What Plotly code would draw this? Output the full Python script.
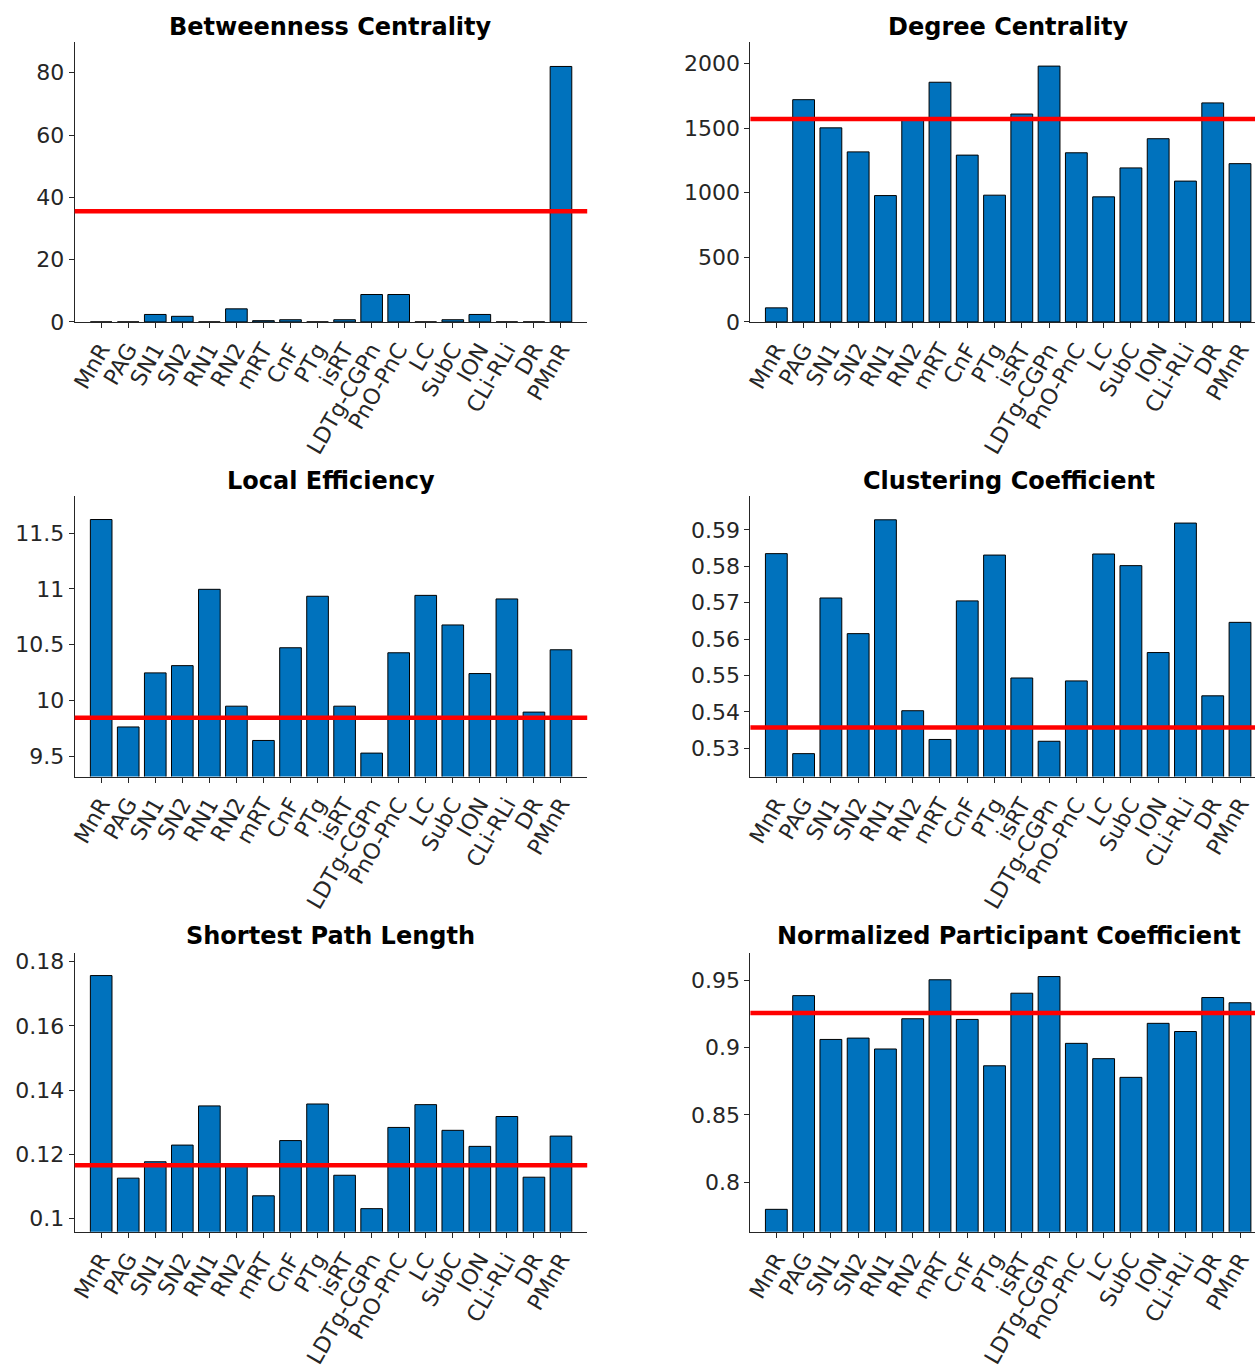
import plotly.graph_objects as go

regions = ["MnR", "PAG", "SN1", "SN2", "RN1", "RN2", "mRT", "CnF", "PTg", "isRT",
           "LDTg-CGPn", "PnO-PnC", "LC", "SubC", "ION", "CLi-RLi", "DR", "PMnR"]

betweenness = [0, 0, 2.4, 1.8, 0, 4.2, 0.4, 0.7, 0, 0.7, 8.8, 8.8, 0, 0.7, 2.4, 0, 0, 82.0]
degree = [109, 1720, 1502, 1316, 978, 1565, 1855, 1291, 981, 1609, 1980, 1309, 968, 1192,
          1418, 1090, 1695, 1225]
local_eff = [11.621, 9.764, 10.248, 10.313, 10.996, 9.95, 9.643, 10.473, 10.934, 9.95,
             9.53, 10.428, 10.942, 10.677, 10.242, 10.91, 9.897, 10.455]
clustering = [0.5835, 0.5285, 0.5713, 0.5615, 0.5928, 0.5403, 0.5324, 0.5705, 0.5831,
              0.5493, 0.5319, 0.5485, 0.5834, 0.5802, 0.5563, 0.5919, 0.5444, 0.5646]
shortest_path = [0.1757, 0.1126, 0.1177, 0.1229, 0.1351, 0.1163, 0.1071, 0.1243, 0.1357,
                 0.1135, 0.1031, 0.1284, 0.1355, 0.1275, 0.1225, 0.1318, 0.1129, 0.1257]
participation = [0.7797, 0.9387, 0.9061, 0.9071, 0.899, 0.9215, 0.9505, 0.921, 0.8865,
                 0.9405, 0.9529, 0.9032, 0.8918, 0.8779, 0.9181, 0.912, 0.9373, 0.9334]

thresholds = [35.5, 1570, 9.846, 0.5357, 0.1166, 0.9258]

titles = ["Betweenness Centrality", "Degree Centrality", "Local Efficiency",
          "Clustering Coefficient", "Shortest Path Length",
          "Normalized Participant Coefficient"]

y_ranges = [[0, 90], [0, 2170], [9.32, 11.83], [0.5222, 0.5993], [0.0959, 0.1828],
            [0.763, 0.9706]]
y_tickvals = [[0, 20, 40, 60, 80], [0, 500, 1000, 1500, 2000],
              [9.5, 10, 10.5, 11, 11.5], [0.53, 0.54, 0.55, 0.56, 0.57, 0.58, 0.59],
              [0.1, 0.12, 0.14, 0.16, 0.18], [0.8, 0.85, 0.9, 0.95]]
y_ticktext = [["0", "20", "40", "60", "80"], ["0", "500", "1000", "1500", "2000"],
              ["9.5", "10", "10.5", "11", "11.5"],
              ["0.53", "0.54", "0.55", "0.56", "0.57", "0.58", "0.59"],
              ["0.1", "0.12", "0.14", "0.16", "0.18"], ["0.8", "0.85", "0.9", "0.95"]]

series = [betweenness, degree, local_eff, clustering, shortest_path, participation]

W, H = 1255, 1369
x_domains = [[69 / W, 584 / W], [748 / W, 1.0]]
x_ranges = [[-0.98, 17.97], [-0.95, 17.55]]
y_domains = [[1 - 322.7 / H, 1 - 39 / H], [1 - 782.7 / H, 1 - 499 / H],
             [1 - 1243.3 / H, 1 - 961 / H]]
title_y = [24, 484, 944]
title_x = [(69 + 584) / 2 / W, (748 + 1267) / 2 / W]

BAR_COLOR = "#0072BD"
AX_COLOR = "#262626"
FONT = "DejaVu Sans"
TICK_SIZE = 22

fig = go.Figure()
layout = dict(width=W, height=H, margin=dict(l=0, r=0, t=0, b=0),
              paper_bgcolor="white", plot_bgcolor="white", showlegend=False,
              font=dict(family=FONT, size=TICK_SIZE, color=AX_COLOR))
annotations = []
shapes = []

for i in range(6):
    row, col = divmod(i, 2)
    n = i + 1
    xa = "x" if n == 1 else f"x{n}"
    ya = "y" if n == 1 else f"y{n}"
    fig.add_trace(go.Bar(
        x=list(range(len(regions))), y=series[i], width=0.8,
        marker=dict(color=BAR_COLOR, line=dict(color="black", width=1)),
        xaxis=xa, yaxis=ya, hoverinfo="x+y"))
    xkey = "xaxis" if n == 1 else f"xaxis{n}"
    ykey = "yaxis" if n == 1 else f"yaxis{n}"
    layout[xkey] = dict(domain=x_domains[col], range=x_ranges[col], anchor=ya,
                        tickmode="array", tickvals=list(range(len(regions))),
                        ticktext=regions, tickangle=-60, ticks="outside", ticklen=5,
                        tickcolor=AX_COLOR, showline=True, linecolor=AX_COLOR,
                        linewidth=1.2, showgrid=False, zeroline=False,
                        tickfont=dict(family=FONT, size=TICK_SIZE, color=AX_COLOR))
    layout[ykey] = dict(domain=y_domains[row], range=y_ranges[i], anchor=xa,
                        tickmode="array", tickvals=y_tickvals[i],
                        ticktext=y_ticktext[i], ticks="outside", ticklen=5,
                        tickcolor=AX_COLOR, showline=True, linecolor=AX_COLOR,
                        linewidth=1.2, showgrid=False, zeroline=False,
                        tickfont=dict(family=FONT, size=TICK_SIZE, color=AX_COLOR))
    shapes.append(dict(type="line", xref=f"{xa} domain", yref=ya, x0=0, x1=1,
                       y0=thresholds[i], y1=thresholds[i],
                       line=dict(color="#FF0000", width=4.5), layer="above"))
    annotations.append(dict(text=f"<b>{titles[i]}</b>", xref="paper", yref="paper",
                            x=title_x[col], y=1 - title_y[row] / H, xanchor="center",
                            yanchor="middle", showarrow=False,
                            font=dict(family=FONT, size=24, color="black")))

layout["shapes"] = shapes
layout["annotations"] = annotations
fig.update_layout(**layout)
fig.write_html("out.html",
               config={"displayModeBar": False},
               post_script="document.body.style.margin='0';"
                           "document.body.style.overflow='hidden';")
